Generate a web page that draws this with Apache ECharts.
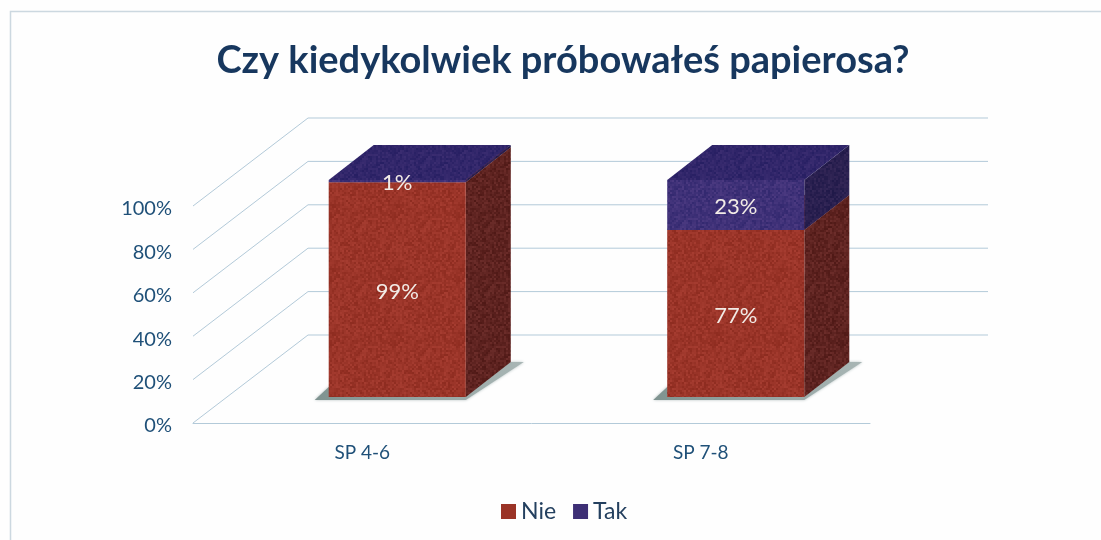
<!DOCTYPE html>
<html>
<head>
<meta charset="utf-8">
<style>html,body{margin:0;padding:0;background:#fefefe}#c{width:1101px;height:540px}</style>
<script src="https://cdn.jsdelivr.net/npm/echarts@6/dist/echarts.min.js"></script>
</head>
<body>
<div id="c"></div>
<script>
const titleText = 'Czy kiedykolwiek próbowałeś papierosa?';
const categories = ['SP 4-6', 'SP 7-8'];
const nie = [99, 77];
const tak = [1, 23];
const yTicks = [0, 20, 40, 60, 80, 100];

const FONT = 'Lato';
const WALL = { dx: 115, dy: -88 };
const FLOOR = { dx: 35, dy: -26 };
const BAR = { dx: 45, dy: -35, ratio: 0.405 };

function pts(a) { return { points: a }; }

// Fine print-like grain on the faces of the boxes (a fixed hash, purely a surface style).
function grain(hex, amp) {
  const c = document.createElement('canvas');
  c.width = c.height = 64;
  const ctx = c.getContext('2d');
  const r = parseInt(hex.slice(1, 3), 16), g = parseInt(hex.slice(3, 5), 16), b = parseInt(hex.slice(5, 7), 16);
  for (let y = 0; y < 64; y += 2) {
    for (let x = 0; x < 64; x += 2) {
      const s = Math.sin(x * 12.9898 + y * 78.233) * 43758.5453;
      const d = (s - Math.floor(s) - 0.5) * 2 * amp;
      ctx.fillStyle = 'rgb(' + Math.round(r + d) + ',' + Math.round(g + d * 0.7) + ',' + Math.round(b + d * 0.7) + ')';
      ctx.fillRect(x, y, 2, 2);
    }
  }
  return { image: c, repeat: 'repeat' };
}

function wallItem(params, api) {
  const cs = params.coordSys;
  const y = api.coord([0, api.value(1)])[1];
  const l = cs.x, r = cs.x + cs.width;
  return {
    type: 'polyline',
    shape: { points: [[l, y], [l + WALL.dx, y + WALL.dy], [r + WALL.dx + 3, y + WALL.dy]] },
    style: { stroke: '#b3cad9', lineWidth: 1, fill: null },
    silent: true
  };
}

function boxItem(colors) {
  return function (params, api) {
    const cat = api.value(0), val = api.value(1), base = api.value(2);
    const w = api.size([1, 0])[0] * BAR.ratio;
    const cx = api.coord([cat, 0])[0] + FLOOR.dx;
    const x0 = cx - w / 2, x1 = cx + w / 2;
    const yb = api.coord([cat, base])[1] + FLOOR.dy;
    const yt = api.coord([cat, base + val])[1] + FLOOR.dy;
    const dx = BAR.dx, dy = BAR.dy;
    const children = [];
    if (base === 0) {
      children.push({
        type: 'polygon',
        shape: pts([[x0 - 14, yb + 3], [x0, yb - 10], [x1 + dx, yb + dy], [x1 + dx + 13, yb + dy], [x1, yb + 3]]),
        style: {
          fill: new echarts.graphic.LinearGradient(0, 1, 1, 0, [
            { offset: 0, color: '#7f9390' }, { offset: 1, color: '#a9b6b5' }
          ]),
          shadowBlur: 3, shadowColor: 'rgba(130,150,150,0.6)'
        }
      });
    }
    children.push(
      { type: 'polygon', shape: pts([[x1, yt], [x1 + dx, yt + dy], [x1 + dx, yb + dy], [x1, yb]]), style: { fill: colors.side } },
      { type: 'polygon', shape: pts([[x0, yt], [x0 + dx, yt + dy], [x1 + dx, yt + dy], [x1, yt]]), style: { fill: colors.top } },
      { type: 'rect', shape: { x: x0, y: yt, width: w, height: yb - yt }, style: { fill: colors.front } },
      {
        type: 'text',
        style: {
          text: val + '%', x: cx, y: (yt + yb) / 2 + 2,
          align: 'center', verticalAlign: 'middle',
          fill: '#f2ebe6', font: '22px ' + FONT
        },
        z2: 10
      }
    );
    return { type: 'group', children: children };
  };
}

const nieData = nie.map((v, i) => [i, v, 0]);
const takData = tak.map((v, i) => [i, v, nie[i]]);
const wallData = yTicks.map(t => [0, t]);

const chart = echarts.init(document.getElementById('c'), null, { renderer: 'canvas' });
chart.setOption({
  animation: false,
  backgroundColor: '#fefefe',
  title: {
    text: titleText, left: 558, top: 37, textAlign: 'center',
    textStyle: { fontFamily: FONT, fontWeight: 'bold', fontSize: 38, color: '#17375e' }
  },
  legend: {
    data: ['Nie', 'Tak'], left: 496, top: 495, icon: 'rect',
    itemWidth: 15, itemHeight: 15, itemGap: 17, selectedMode: false,
    textStyle: { fontFamily: FONT, fontSize: 23, color: '#24405f' }
  },
  grid: { left: 193, width: 677, top: 206, height: 217, containLabel: false },
  xAxis: {
    type: 'category', data: categories,
    axisLine: { lineStyle: { color: '#b3cad9', width: 1 } }, axisTick: { show: false },
    axisLabel: { fontFamily: FONT, fontSize: 19, color: '#1f5078', margin: 20 }
  },
  yAxis: {
    type: 'value', min: 0, max: 100, interval: 20,
    axisLine: { show: false }, axisTick: { show: false }, splitLine: { show: false },
    axisLabel: { formatter: '{value}%', fontFamily: FONT, fontSize: 20, color: '#1f5078', margin: 21, verticalAlign: 'top', lineHeight: 6 }
  },
  graphic: [{
    type: 'polyline', silent: true, z: -1,
    shape: { points: [[10.5, 540], [10.5, 11.5], [1101, 11.5]] },
    style: { stroke: '#ccd8e0', lineWidth: 1.5, fill: null }
  }],
  series: [
    { type: 'custom', name: 'wall', silent: true, renderItem: wallItem, data: wallData, encode: { x: 0, y: 1 }, z: 1 },
    {
      type: 'custom', name: 'Nie', silent: true, itemStyle: { color: '#9a3326' },
      renderItem: boxItem({ front: grain('#9a3428', 12), side: grain('#5e2320', 14), top: grain('#7c2b24', 12) }),
      data: nieData, encode: { x: 0, y: 1 }, z: 2
    },
    {
      type: 'custom', name: 'Tak', silent: true, itemStyle: { color: '#3d2f75' },
      renderItem: boxItem({ front: grain('#3f3178', 12), side: grain('#2a2050', 10), top: grain('#31266a', 10) }),
      data: takData, encode: { x: 0, y: 1 }, z: 3
    }
  ]
});
</script>
</body>
</html>
